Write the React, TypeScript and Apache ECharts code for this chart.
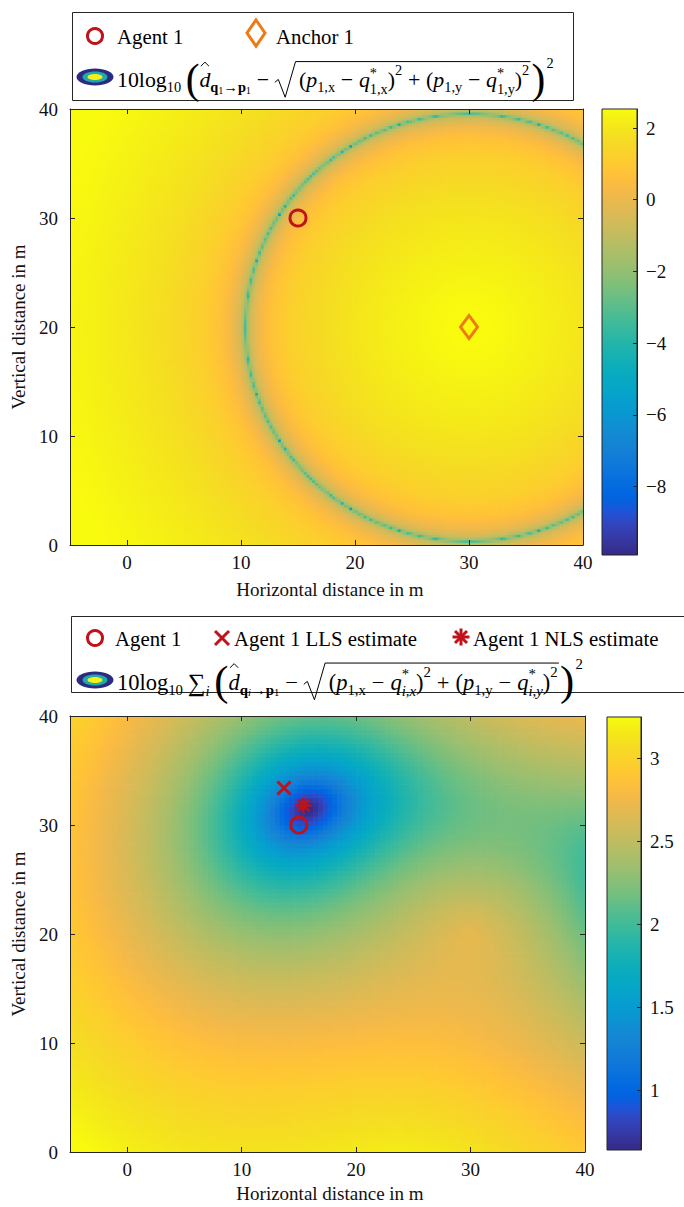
import React, { useEffect, useRef } from "react";
import * as echarts from "echarts";

// ---------------- data ----------------
const xRange = [-5, 40];
const yRange = [0, 40];
const xTickValues = [0, 10, 20, 30, 40];
const yTickValues = [0, 10, 20, 30, 40];
const topBarTicks = [-8, -6, -4, -2, 0, 2];
const topBarRange = [-9.91, 2.53];
const bottomBarTicks = [1, 1.5, 2, 2.5, 3];
const bottomBarRange = [0.64, 3.25];

const agentPosition = [15, 30];
const llsEstimate = [13.7, 33.4];
const nlsEstimate = [15.4, 31.8];
const anchorXs = [30, 40, 25];
const anchorYs = [20, 50, -5];
const measuredRanges = [19.6, 29.63, 36.26];

// ---------------- styles ----------------
const FONT = "Liberation Serif";
const AX = "#262626";
const RED = "#c0121a";
const ORANGE = "#ee7a16";
const PARULA_RGB = [
  [0.2081, 0.1663, 0.5292], [0.2116, 0.1898, 0.5777], [0.2123, 0.2138, 0.627], [0.2081, 0.2386, 0.6771],
  [0.1959, 0.2645, 0.7279], [0.1707, 0.2919, 0.7792], [0.1253, 0.3242, 0.8303], [0.0591, 0.3598, 0.8683],
  [0.0117, 0.3875, 0.882], [0.006, 0.4086, 0.8828], [0.0165, 0.4266, 0.8786], [0.0329, 0.443, 0.872],
  [0.0498, 0.4586, 0.8641], [0.0629, 0.4737, 0.8554], [0.0723, 0.4887, 0.8467], [0.0779, 0.504, 0.8384],
  [0.0793, 0.52, 0.8312], [0.0749, 0.5375, 0.8263], [0.0641, 0.557, 0.824], [0.0488, 0.5772, 0.8228],
  [0.0343, 0.5966, 0.8199], [0.0265, 0.6137, 0.8135], [0.0239, 0.6287, 0.8038], [0.0231, 0.6418, 0.7913],
  [0.0228, 0.6535, 0.7768], [0.0267, 0.6642, 0.7607], [0.0384, 0.6743, 0.7436], [0.059, 0.6838, 0.7254],
  [0.0843, 0.6928, 0.7062], [0.1133, 0.7015, 0.6859], [0.1453, 0.7098, 0.6646], [0.1801, 0.7177, 0.6424],
  [0.2178, 0.725, 0.6193], [0.2586, 0.7317, 0.5954], [0.3022, 0.7376, 0.5712], [0.3482, 0.7424, 0.5473],
  [0.3953, 0.7459, 0.5244], [0.442, 0.7481, 0.5033], [0.4871, 0.7491, 0.484], [0.53, 0.7491, 0.4661],
  [0.5709, 0.7485, 0.4494], [0.6099, 0.7473, 0.4337], [0.6473, 0.7456, 0.4188], [0.6834, 0.7435, 0.4044],
  [0.7184, 0.7411, 0.3905], [0.7525, 0.7384, 0.3768], [0.7858, 0.7356, 0.3633], [0.8185, 0.7327, 0.3498],
  [0.8507, 0.7299, 0.336], [0.8824, 0.7274, 0.3217], [0.9139, 0.7258, 0.3063], [0.945, 0.7261, 0.2886],
  [0.9739, 0.7314, 0.2666], [0.9938, 0.7455, 0.2403], [0.999, 0.7653, 0.2164], [0.9955, 0.7861, 0.1967],
  [0.988, 0.8066, 0.1794], [0.9789, 0.8271, 0.1633], [0.9697, 0.8481, 0.1475], [0.9626, 0.8705, 0.1309],
  [0.9589, 0.8949, 0.1132], [0.9598, 0.9218, 0.0948], [0.9661, 0.9514, 0.0755], [0.9763, 0.9831, 0.0538],
];
const PARULA = PARULA_RGB.map(
  (c) => "#" + c.map((v) => Math.round(v * 255).toString(16).padStart(2, "0")).join("")
);

// cost surface of the legend formula, evaluated on the plotting grid
function costField(anchors: number[], step: number, range: number[]) {
  const nx = Math.round((xRange[1] - xRange[0]) / step);
  const ny = Math.round((yRange[1] - yRange[0]) / step);
  const out: number[][] = [];
  for (let i = 0; i < nx; i++) {
    const x = xRange[0] + (i + 0.5) * step;
    for (let j = 0; j < ny; j++) {
      const y = yRange[0] + (j + 0.5) * step;
      let s = 0;
      for (const k of anchors) {
        const e = measuredRanges[k] - Math.hypot(x - anchorXs[k], y - anchorYs[k]);
        s += e * e;
      }
      const v = Math.log10(Math.max(s, 1e-12));
      out.push([x, y, Math.min(range[1], Math.max(range[0], v))]);
    }
  }
  return out;
}

// ---------------- math text layout ----------------
type Tok = {
  t: string; s: number; it?: boolean; b?: boolean; dy?: number; dx?: number;
  w?: number; pre?: number; mark?: string; at?: string; hat?: boolean;
};
let measureCtx: CanvasRenderingContext2D | null = null;
function fontStr(tok: Tok, f: number) {
  return `${tok.it ? "italic " : ""}${tok.b ? "bold " : ""}${tok.s * f}px "${FONT}"`;
}
function tokWidth(tok: Tok, f: number) {
  if (tok.w !== undefined) return tok.w * f;
  if (!measureCtx) measureCtx = document.createElement("canvas").getContext("2d");
  measureCtx!.font = fontStr(tok, f);
  return measureCtx!.measureText(tok.t).width;
}
function layoutMath(toks: Tok[], x0: number, yc: number, xEnd: number) {
  const run = (f: number) => {
    let cur = x0;
    const marks: Record<string, number> = {};
    const placed: { tok: Tok; x: number; w: number }[] = [];
    for (const tok of toks) {
      const w = tokWidth(tok, f);
      let sx: number;
      if (tok.at) sx = marks[tok.at];
      else sx = cur + (tok.pre || 0) * f;
      if (tok.mark) marks[tok.mark] = sx;
      const ex = sx + w;
      cur = tok.at ? Math.max(cur, ex) : ex;
      placed.push({ tok, x: sx + (tok.dx || 0) * f, w });
    }
    return { cur, marks, placed };
  };
  const r1 = run(1);
  const f = (xEnd - x0) / (r1.cur - x0);
  const r = run(f);
  const els: any[] = [];
  for (const p of r.placed) {
    if (!p.tok.t) continue;
    els.push({
      type: "text", x: p.x, y: yc + (p.tok.dy || 0) * f, z: 20,
      style: {
        text: p.tok.t, fontSize: p.tok.s * f, fontFamily: FONT,
        fontStyle: p.tok.it ? "italic" : "normal", fontWeight: p.tok.b ? "bold" : "normal",
        fill: "#000", align: "left", verticalAlign: "middle",
      },
    });
    if (p.tok.hat) {
      const hx = p.x + p.w * 0.5;
      els.push({
        type: "polyline", z: 20,
        shape: { points: [[hx - 3.5 * f, yc - 12 * f], [hx, yc - 15.5 * f], [hx + 3.5 * f, yc - 12 * f]] },
        style: { stroke: "#000", lineWidth: 1, fill: null },
      });
    }
  }
  const rs = r.marks.rad, re = r.marks.radEnd;
  els.push({
    type: "polyline", z: 20,
    shape: {
      points: [
        [rs + 1 * f, yc + 2 * f], [rs + 4 * f, yc - 0.5 * f], [rs + 10 * f, yc + 15 * f],
        [rs + 19 * f, yc - 16 * f], [re + 1 * f, yc - 16 * f],
      ],
    },
    style: { stroke: "#000", lineWidth: 1, fill: null },
  });
  return els;
}

const M = 19, S = 12.5, SS = 9, B = 36, SUB = 6.5, SUBSUB = 9, SUP = -8.5;
const radTok: Tok = { t: "", s: M, w: 22, pre: 4, mark: "rad" };
const topFormula: Tok[] = [
  { t: "10log", s: M }, { t: "10", s: S, dy: SUB },
  { t: "(", s: B, dy: -1, pre: 4 },
  { t: "d", s: M, it: true, hat: true },
  { t: "q", s: S, b: true, dy: SUB }, { t: "1", s: SS, dy: SUBSUB }, { t: "→", s: S, dy: SUB },
  { t: "p", s: S, b: true, dy: SUB }, { t: "1", s: SS, dy: SUBSUB },
  { t: "−", s: M, pre: 5 }, radTok,
  { t: "(", s: M }, { t: "p", s: M, it: true }, { t: "1,x", s: S, dy: SUB },
  { t: "−", s: M, pre: 5 }, { t: "q", s: M, it: true, pre: 5 },
  { t: "1,x", s: S, dy: SUB + 1, mark: "q1" }, { t: "*", s: S, dy: SUP + 2, at: "q1" },
  { t: ")", s: M }, { t: "2", s: S, dy: SUP },
  { t: "+", s: M, pre: 5 },
  { t: "(", s: M, pre: 5 }, { t: "p", s: M, it: true }, { t: "1,y", s: S, dy: SUB },
  { t: "−", s: M, pre: 5 }, { t: "q", s: M, it: true, pre: 5 },
  { t: "1,y", s: S, dy: SUB + 1, mark: "q2" }, { t: "*", s: S, dy: SUP + 2, at: "q2" },
  { t: ")", s: M }, { t: "2", s: S, dy: SUP },
  { t: "", s: M, w: 1, mark: "radEnd" },
  { t: ")", s: B, dy: -1, pre: 1 }, { t: "2", s: S, dy: -15, pre: 1 },
];
const bottomFormula: Tok[] = [
  { t: "10log", s: M }, { t: "10", s: S, dy: SUB },
  { t: "∑", s: M + 2, pre: 4 }, { t: "i", s: S, it: true, dy: SUB + 1 },
  { t: "(", s: B, dy: -1, pre: 4 },
  { t: "d", s: M, it: true, hat: true },
  { t: "q", s: S, b: true, dy: SUB }, { t: "i", s: SS, it: true, dy: SUBSUB }, { t: "→", s: S, dy: SUB },
  { t: "p", s: S, b: true, dy: SUB }, { t: "1", s: SS, dy: SUBSUB },
  { t: "−", s: M, pre: 5 }, radTok,
  { t: "(", s: M }, { t: "p", s: M, it: true }, { t: "1,x", s: S, dy: SUB },
  { t: "−", s: M, pre: 5 }, { t: "q", s: M, it: true, pre: 5 },
  { t: "i,x", s: S, it: true, dy: SUB + 1, mark: "q1" }, { t: "*", s: S, dy: SUP + 2, at: "q1" },
  { t: ")", s: M }, { t: "2", s: S, dy: SUP },
  { t: "+", s: M, pre: 5 },
  { t: "(", s: M, pre: 5 }, { t: "p", s: M, it: true }, { t: "1,y", s: S, dy: SUB },
  { t: "−", s: M, pre: 5 }, { t: "q", s: M, it: true, pre: 5 },
  { t: "i,y", s: S, it: true, dy: SUB + 1, mark: "q2" }, { t: "*", s: S, dy: SUP + 2, at: "q2" },
  { t: ")", s: M }, { t: "2", s: S, dy: SUP },
  { t: "", s: M, w: 1, mark: "radEnd" },
  { t: ")", s: B, dy: -1, pre: 1 }, { t: "2", s: S, dy: -15, pre: 1 },
];

// ---------------- legend drawing ----------------
const LEG = 20.8;
function txt(text: string, x: number, y: number, size = LEG) {
  return {
    type: "text", x, y, z: 20,
    style: { text, fontSize: size, fontFamily: FONT, fill: "#000", align: "left", verticalAlign: "middle" },
  };
}
function colormapIcon(cx: number, cy: number) {
  return [
    { type: "ellipse", z: 20, shape: { cx, cy, rx: 18.5, ry: 8.5 }, style: { fill: "#2c2b82" } },
    { type: "ellipse", z: 21, shape: { cx, cy, rx: 12.5, ry: 5.5 }, style: { fill: "#22a9aa" } },
    { type: "ellipse", z: 22, shape: { cx, cy, rx: 7.5, ry: 3 }, style: { fill: "#f4f01a" } },
  ];
}
function legendGraphics() {
  const g: any[] = [];
  // top legend
  g.push({ type: "rect", z: 10, shape: { x: 72.5, y: 12.5, width: 501, height: 88 }, style: { fill: "#fff", stroke: AX, lineWidth: 1 } });
  g.push({ type: "circle", z: 20, shape: { cx: 95, cy: 36, r: 7.5 }, style: { fill: null, stroke: RED, lineWidth: 3 } });
  g.push(txt("Agent 1", 117, 36));
  g.push({ type: "polygon", z: 20, shape: { points: [[256, 20], [265, 33], [256, 46], [247, 33]] }, style: { fill: null, stroke: ORANGE, lineWidth: 3 } });
  g.push(txt("Anchor 1", 276, 36));
  g.push(...colormapIcon(95, 77));
  g.push(...layoutMath(topFormula, 117, 80, 554));
  // bottom legend
  g.push({ type: "rect", z: 10, shape: { x: 71.5, y: 616.5, width: 630, height: 76 }, style: { fill: "#fff", stroke: AX, lineWidth: 1 } });
  g.push({ type: "circle", z: 20, shape: { cx: 95, cy: 638, r: 7.5 }, style: { fill: null, stroke: RED, lineWidth: 3 } });
  g.push(txt("Agent 1", 115, 638));
  g.push({ type: "line", z: 20, shape: { x1: 215, y1: 631, x2: 229, y2: 645 }, style: { stroke: RED, lineWidth: 3 } });
  g.push({ type: "line", z: 20, shape: { x1: 229, y1: 631, x2: 215, y2: 645 }, style: { stroke: RED, lineWidth: 3 } });
  g.push(txt("Agent 1 LLS estimate", 234, 638));
  const ac = [461, 637], ar = 8.5;
  for (let k = 0; k < 4; k++) {
    const a = (k * Math.PI) / 4;
    g.push({ type: "line", z: 20, shape: { x1: ac[0] - ar * Math.cos(a), y1: ac[1] - ar * Math.sin(a), x2: ac[0] + ar * Math.cos(a), y2: ac[1] + ar * Math.sin(a) }, style: { stroke: RED, lineWidth: 3 } });
  }
  g.push(txt("Agent 1 NLS estimate", 473, 638));
  g.push(...colormapIcon(95, 680));
  g.push(...layoutMath(bottomFormula, 117, 682, 583));
  // axis titles
  const title = (text: string, x: number, y: number, rot = 0) => ({
    type: "text", x, y, rotation: rot, z: 20,
    style: { text, fontSize: 19, fontFamily: FONT, fill: "#111", align: "center", verticalAlign: "middle" },
  });
  g.push(title("Vertical distance in m", 18, 327, Math.PI / 2));
  g.push(title("Horizontal distance in m", 330, 589));
  g.push(title("Vertical distance in m", 18, 934, Math.PI / 2));
  g.push(title("Horizontal distance in m", 330, 1193));
  return g;
}

// ---------------- option ----------------
const labelStyle = { fontFamily: FONT, fontSize: 19, color: "#111" };
const minus = (v: number) => String(v).replace("-", "−");

function plotAxes(grid: number) {
  const x = (pos: string, show: boolean) => ({
    type: "value", gridIndex: grid, position: pos, min: xRange[0], max: xRange[1], z: 10,
    axisLine: { show: true, onZero: false, lineStyle: { color: AX, width: 1 } },
    axisTick: { show: true, inside: true, length: 5, customValues: xTickValues, lineStyle: { color: AX } },
    axisLabel: { show, customValues: xTickValues, margin: 8, ...labelStyle },
    splitLine: { show: false },
  });
  const y = (pos: string, show: boolean) => ({
    type: "value", gridIndex: grid, position: pos, min: yRange[0], max: yRange[1], z: 10,
    axisLine: { show: true, onZero: false, lineStyle: { color: AX, width: 1 } },
    axisTick: { show: true, inside: true, length: 5, customValues: yTickValues, lineStyle: { color: AX } },
    axisLabel: { show, customValues: yTickValues, margin: 12, ...labelStyle },
    splitLine: { show: false },
  });
  return { xs: [x("bottom", true), x("top", false)], ys: [y("left", true), y("right", false)] };
}
function barAxes(grid: number, range: number[], ticks: number[]) {
  return {
    x: { type: "value", gridIndex: grid, min: 0, max: 1, show: false },
    y: {
      type: "value", gridIndex: grid, position: "right", min: range[0], max: range[1], z: 10,
      axisLine: { show: true, onZero: false, lineStyle: { color: AX, width: 1 } },
      axisTick: { show: true, inside: true, length: 4, customValues: ticks, lineStyle: { color: AX } },
      axisLabel: { show: true, customValues: ticks, margin: 9, formatter: minus, ...labelStyle },
      splitLine: { show: false },
    },
  };
}

function heatSeries(data: number[][], step: number, xi: number, yi: number) {
  const h = step / 2;
  return {
    type: "custom", xAxisIndex: xi, yAxisIndex: yi, data, clip: true, z: 2,
    progressive: 0, progressiveThreshold: 1e9,
    encode: { x: 0, y: 1 },
    renderItem: (params: any, api: any) => {
      const x = api.value(0), y = api.value(1);
      const p0 = api.coord([x - h, y + h]);
      const p1 = api.coord([x + h, y - h]);
      return {
        type: "rect",
        shape: { x: p0[0], y: p0[1], width: p1[0] - p0[0] + 0.7, height: p1[1] - p0[1] + 0.7 },
        style: { fill: api.visual("color") },
      };
    },
  };
}
function barSeries(range: number[], xi: number, yi: number) {
  const stops = PARULA.map((c, i) => ({ offset: i / (PARULA.length - 1), color: c }));
  return {
    type: "custom", xAxisIndex: xi, yAxisIndex: yi, data: [[0, range[0]]], z: 2,
    encode: { x: 0, y: 1 },
    renderItem: (params: any, api: any) => {
      const p0 = api.coord([0, range[1]]);
      const p1 = api.coord([1, range[0]]);
      return {
        type: "rect",
        shape: { x: p0[0], y: p0[1], width: p1[0] - p0[0], height: p1[1] - p0[1] },
        style: { fill: new echarts.graphic.LinearGradient(0, 1, 0, 0, stops), stroke: AX, lineWidth: 1 },
      };
    },
  };
}
function markerSeries(pt: number[], xi: number, yi: number, symbol: string, size: any, color: string, bw = 3) {
  return {
    type: "scatter", xAxisIndex: xi, yAxisIndex: yi, data: [pt], z: 5, symbol, symbolSize: size,
    itemStyle: { color: "rgba(0,0,0,0)", borderColor: color, borderWidth: bw, opacity: 1 },
    emphasis: { disabled: true }, silent: true,
  };
}

function buildOption() {
  const topStep = 0.25, bottomStep = 5 / 12;
  const topData = costField([0], topStep, topBarRange);
  const bottomData = costField(anchorXs.map((_, i) => i), bottomStep, bottomBarRange);
  const a = plotAxes(0), b = barAxes(1, topBarRange, topBarTicks);
  const c = plotAxes(2), d = barAxes(3, bottomBarRange, bottomBarTicks);
  const gridBase = { containLabel: false, outerBoundsMode: "none" };
  return {
    animation: false,
    backgroundColor: "#fff",
    textStyle: { fontFamily: FONT },
    grid: [
      { ...gridBase, left: 70, top: 109, width: 513, height: 436 },
      { ...gridBase, left: 602, top: 109, width: 35, height: 446 },
      { ...gridBase, left: 70, top: 716, width: 515, height: 436 },
      { ...gridBase, left: 607, top: 717, width: 34, height: 433 },
    ],
    xAxis: [a.xs[0], a.xs[1], b.x, c.xs[0], c.xs[1], d.x],
    yAxis: [a.ys[0], a.ys[1], b.y, c.ys[0], c.ys[1], d.y],
    visualMap: [
      { type: "continuous", show: false, seriesIndex: 0, dimension: 2, min: topBarRange[0], max: topBarRange[1], inRange: { color: PARULA } },
      { type: "continuous", show: false, seriesIndex: 1, dimension: 2, min: bottomBarRange[0], max: bottomBarRange[1], inRange: { color: PARULA } },
    ],
    series: [
      heatSeries(topData, topStep, 0, 0),
      heatSeries(bottomData, bottomStep, 3, 3),
      barSeries(topBarRange, 2, 2),
      barSeries(bottomBarRange, 5, 5),
      markerSeries(agentPosition, 0, 0, "circle", 16, RED),
      markerSeries([anchorXs[0], anchorYs[0]], 0, 0, "diamond", [17, 23], ORANGE),
      markerSeries(agentPosition, 3, 3, "circle", 16, RED),
      markerSeries(llsEstimate, 3, 3, "path://M0,0L10,10M10,0L0,10", 13, RED),
      markerSeries(nlsEstimate, 3, 3, "path://M5,0L5,10M0,5L10,5M1.46,1.46L8.54,8.54M8.54,1.46L1.46,8.54", 16, RED, 2.5),
    ],
    graphic: { elements: legendGraphics() },
  };
}

export default function App() {
  const ref = useRef<HTMLDivElement>(null);
  useEffect(() => {
    document.body.style.margin = "0";
    const chart = echarts.init(ref.current!, null, { renderer: "svg" });
    chart.setOption(buildOption() as any);
    return () => chart.dispose();
  }, []);
  return <div ref={ref} style={{ width: 684, height: 1207, background: "#fff" }} />;
}
